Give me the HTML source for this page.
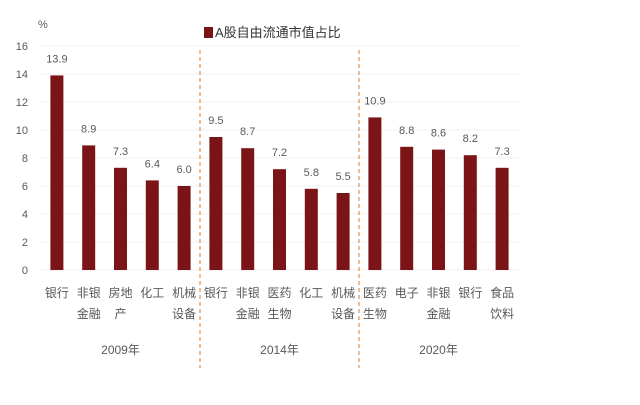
<!DOCTYPE html>
<html><head><meta charset="utf-8"><style>
body{margin:0;background:#fff;}
svg text{font-family:"Liberation Sans","Noto Sans CJK SC",sans-serif;fill:#595959;}
</style></head><body>
<svg width="640" height="400" id="chart">
<g id="grid"></g><g id="bars"></g><g id="labels"></g>
<g>
<rect x="204" y="27" width="9" height="11" fill="#7b1416"/>
<text x="215" y="37" font-size="13" style="fill:#333">A股自由流通市值占比</text>
</g>
<text x="38" y="28" font-size="11">%</text>
</svg>
<script>
const categories=["银行|","非银|金融","房地|产","化工|","机械|设备","银行|","非银|金融","医药|生物","化工|","机械|设备","医药|生物","电子|","非银|金融","银行|","食品|饮料"];
const values=[13.9,8.9,7.3,6.4,6.0,9.5,8.7,7.2,5.8,5.5,10.9,8.8,8.6,8.2,7.3];
const years=["2009年","2014年","2020年"];
const yTicks=[0,2,4,6,8,10,12,14,16];
const NS="http://www.w3.org/2000/svg";
const x0=41,cw=31.8,bw=13,yBase=270,ppu=14;
const X=i=>x0+cw*(i+0.5), Y=v=>yBase-v*ppu;
function mk(t,a,p,txt){const e=document.createElementNS(NS,t);for(const k in a)e.setAttribute(k,a[k]);if(txt!=null)e.textContent=txt;document.getElementById(p).appendChild(e);return e;}
yTicks.forEach(t=>{
 const l=mk("line",{x1:x0,x2:x0+cw*15,y1:Y(t),y2:Y(t),stroke:"#f2f2f2"},"grid");
 
 
 const tx=mk("text",{x:28,y:Y(t)+4,"font-size":11,"text-anchor":"end"},"labels",t);
 
 
});
values.forEach((v,i)=>{
 const r=mk("rect",{x:X(i)-bw/2,y:Y(v),width:bw,height:v*ppu,fill:"#7b1416"},"bars");
 
 
 const t=mk("text",{x:X(i),y:Y(v)-13,"font-size":11,"text-anchor":"middle"},"labels",v.toFixed(1));
 
 
 categories[i].split("|").forEach((s,j)=>{if(!s)return;
  const c=mk("text",{x:X(i),y:297+j*21,"font-size":12,"text-anchor":"middle"},"labels",s);
  
  });
});
years.forEach((y,g)=>{
 const t=mk("text",{x:X(g*5+2),y:354,"font-size":12,"text-anchor":"middle"},"labels",y);
 
 
 if(g>0){const l=mk("line",{x1:x0+cw*g*5,x2:x0+cw*g*5,y1:50,y2:368,stroke:"#f4a460","stroke-width":1.5,"stroke-dasharray":"4,3"},"grid");
 
 }
});
</script>
</body></html>
